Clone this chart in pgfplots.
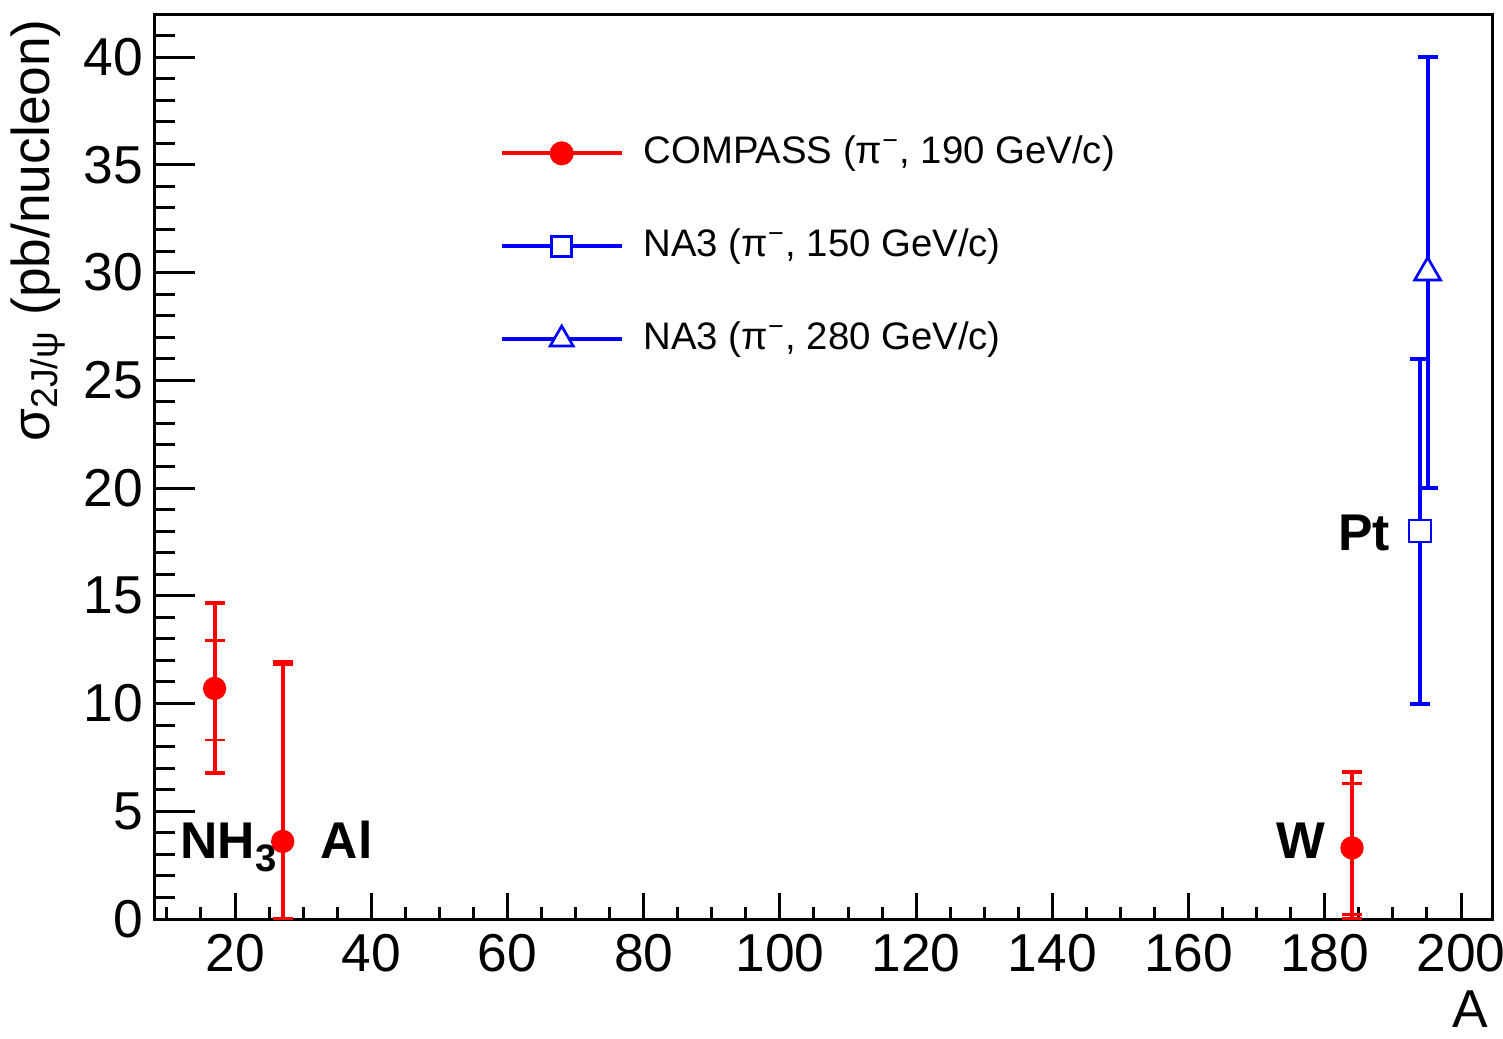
\documentclass[border=0pt]{standalone}
\usepackage{pgfplots}
\pgfplotsset{compat=1.18}
\usepackage{fontspec}
\setmainfont{Liberation Sans}
\begin{document}
\begin{tikzpicture}
\useasboundingbox (-46.5pt,-35.7pt) rectangle (404.4pt,275.7pt);
\begin{axis}[
 at={(0,0)}, anchor=south west,
 scale only axis, width=401.1pt, height=271.5pt,
 xmin=8.25, xmax=204.55, ymin=0, ymax=42,
 xtick={20,40,...,200}, ytick={0,5,...,40},
 minor xtick={10,15,...,205}, minor ytick={0,1,...,42},
 tick pos=left, tick align=inside,
 axis line style={line width=0.9pt},
 major tick style={line width=0.9pt, black},
 minor tick style={line width=0.9pt, black},
 major tick length=12pt, minor tick length=6pt,
 every major x tick/.append style={/pgfplots/major tick length=7.8pt},
 every minor x tick/.append style={/pgfplots/minor tick length=3.6pt},
 /pgf/number format/assume math mode=true,
 ticklabel style={font=\fontsize{16}{16}\selectfont},
 xticklabel style={yshift=-1pt},
 xlabel={A},
 every axis x label/.style={at={(rel axis cs:0.9835,-0.1)}, anchor=center, inner sep=0pt, font=\fontsize{16}{16}\selectfont},
 ylabel={σ\textsubscript{2J/ψ} (pb/nucleon)},
 every axis y label/.style={at={(rel axis cs:-0.1085,0.995)}, rotate=90, anchor=north east, inner sep=0pt, font=\fontsize{16}{16}\selectfont},
 legend style={at={(rel axis cs:0.2573,0.8707)}, anchor=north west, draw=none, fill=none,
   font=\fontsize{11.5}{11.5}\selectfont, inner sep=0pt,
   nodes={text height=9.6pt, text depth=3.4pt, inner ysep=0pt, inner xsep=6pt},
   row sep=14.9pt},
 legend cell align=left,
 legend image code/.code={\draw[mark repeat=2,mark phase=2,#1] plot coordinates {(0pt,0pt) (18pt,0pt) (36pt,0pt)};},
]
\addlegendimage{red, line width=1.2pt, mark=*, mark size=3pt, mark options={solid}}
\addlegendentry{COMPASS (π\textsuperscript{−}, 190 GeV/c)}
\addlegendimage{blue, line width=1.2pt, mark=square*, mark size=3pt, mark options={solid, fill=white, line width=0.8pt}}
\addlegendentry{NA3 (π\textsuperscript{−}, 150 GeV/c)}
\addlegendimage{blue, line width=1.2pt, mark=triangle*, mark size=4pt, mark options={solid, fill=white, line width=0.8pt}}
\addlegendentry{NA3 (π\textsuperscript{−}, 280 GeV/c)}

% COMPASS total uncertainties
\addplot[forget plot, red, only marks, mark=none,
  error bars/.cd, y dir=both, y explicit,
  error bar style={line width=1.2pt},
  error mark options={rotate=90, line width=1.2pt, mark size=3pt}]
 coordinates {(17,10.7) += (0,3.95) -= (0,3.93)
              (27,3.6) += (0,8.35) -= (0,3.6)
              (184,3.3) += (0,3.5) -= (0,3.3)};
% COMPASS statistical uncertainties + markers
\addplot[forget plot, red, only marks, mark=*, mark size=3.3pt,
  error bars/.cd, y dir=both, y explicit,
  error bar style={line width=1.2pt},
  error mark options={rotate=90, line width=0.8pt, mark size=3pt}]
 coordinates {(17,10.7) += (0,2.23) -= (0,2.4)
              (27,3.6) += (0,8.2) -= (0,3.6)
              (184,3.3) += (0,3.0) -= (0,3.1)};
% NA3 150 GeV/c
\addplot[forget plot, blue, only marks, mark=square*, mark size=3.3pt,
  mark options={fill=white, line width=0.8pt},
  error bars/.cd, y dir=both, y explicit,
  error bar style={line width=1.2pt},
  error mark options={rotate=90, line width=1.2pt, mark size=3pt}]
 coordinates {(194,18) +- (0,8)};
% NA3 280 GeV/c
\addplot[forget plot, blue, only marks, mark=triangle*, mark size=4.5pt,
  mark options={fill=white, line width=0.8pt},
  error bars/.cd, y dir=both, y explicit,
  error bar style={line width=1.2pt},
  error mark options={rotate=90, line width=1.2pt, mark size=3pt}]
 coordinates {(195.1,30) +- (0,10)};

\node[font=\bfseries\fontsize{15.5}{15.5}\selectfont, anchor=base west, inner sep=0pt] at (axis cs:11.9,2.83) {NH\raisebox{-4pt}{\fontsize{11.5}{11.5}\selectfont 3}};
\node[font=\bfseries\fontsize{15.5}{15.5}\selectfont, anchor=base west, inner sep=0pt] at (axis cs:32.5,2.83) {Al};
\node[font=\bfseries\fontsize{15.5}{15.5}\selectfont, anchor=base west, inner sep=0pt] at (axis cs:172.8,2.83) {W};
\node[font=\bfseries\fontsize{15.5}{15.5}\selectfont, anchor=base west, inner sep=0pt] at (axis cs:181.9,17.1) {Pt};
\end{axis}
\end{tikzpicture}
\end{document}
